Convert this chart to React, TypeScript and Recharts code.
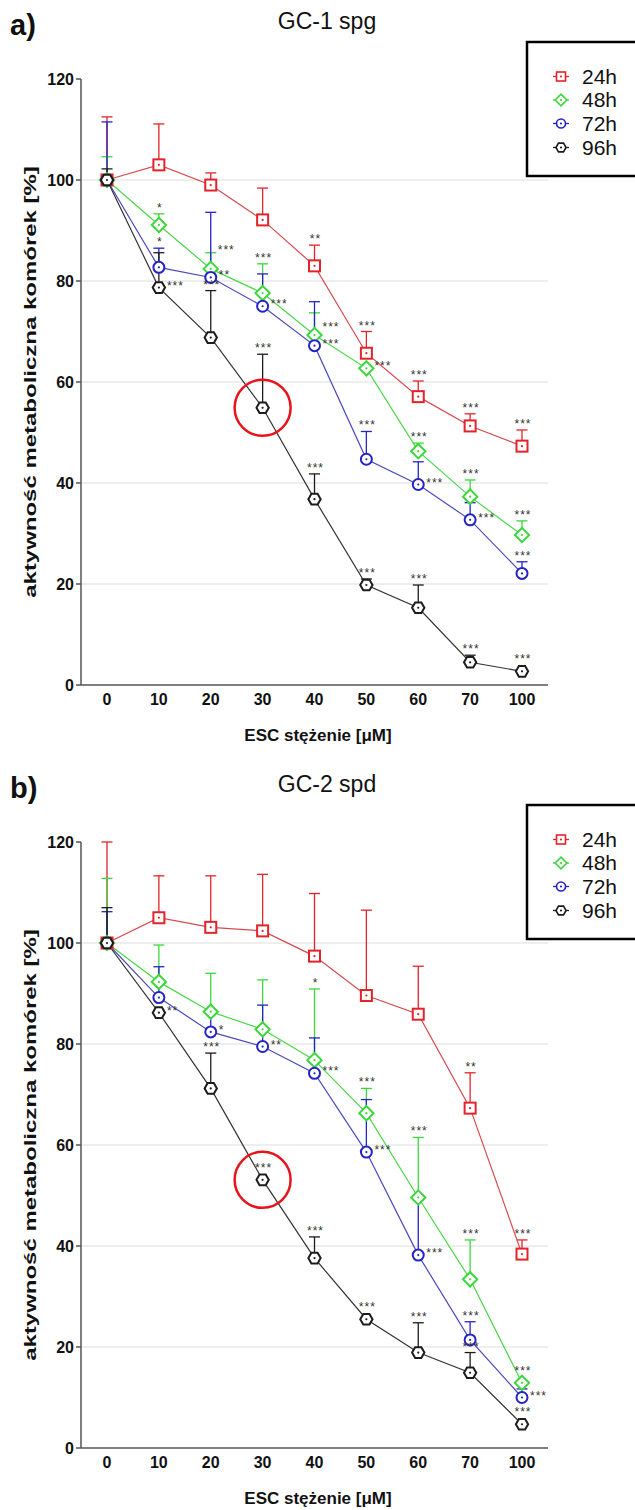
import React from "react";
import {
  CartesianGrid,
  ErrorBar,
  Line,
  LineChart,
  ReferenceDot,
  XAxis,
  YAxis,
} from "recharts";

const FONT = "'Liberation Sans', Arial, Helvetica, sans-serif";

const concentrations = ["0", "10", "20", "30", "40", "50", "60", "70", "100"];
const yTicks = [0, 20, 40, 60, 80, 100, 120];
const gridValues = [20, 40, 60, 80, 100];

const seriesKeys = ["h24", "h48", "h72", "h96"];
const seriesLabels = ["24h", "48h", "72h", "96h"];
const seriesColors = ["#e3232a", "#3ad83a", "#2323c6", "#1c1c1c"];
const lineColors = ["#d94a4f", "#4bd64b", "#4a4ac0", "#333333"];
const seriesShapes = ["square", "diamond", "circle", "hexagon"];

// GC-1 spg (panel a)
const gc1_24h = [100, 103, 99, 92.1, 83, 65.7, 57.1, 51.3, 47.3];
const gc1_48h = [100, 91.1, 82.4, 77.6, 69.3, 62.7, 46.3, 37.3, 29.7];
const gc1_72h = [100, 82.7, 80.7, 75, 67.2, 44.7, 39.7, 32.7, 22.1];
const gc1_96h = [100, 78.7, 68.8, 54.9, 36.8, 19.8, 15.3, 4.5, 2.7];

const gc1_24h_sd = [12.5, 8.1, 2.4, 6.3, 4.1, 4.3, 3.1, 2.4, 3.2];
const gc1_48h_sd = [4.6, 2.2, 3.2, 5.8, 4.4, 0, 1.6, 3.3, 2.8];
const gc1_72h_sd = [11.5, 3.8, 12.9, 6.4, 8.7, 5.5, 4.5, 3.4, 2.3];
const gc1_96h_sd = [2.2, 6.9, 9.3, 10.6, 5.0, 1.2, 4.5, 1.4, 0];

const gc1_24h_sig = ["", "", "", "", "**", "***", "***", "***", "***"];
const gc1_48h_sig = ["", "*", "***", "***", "***", "***", "***", "***", "***"];
const gc1_72h_sig = ["", "*", "**", "***", "***", "***", "***", "***", "***"];
const gc1_96h_sig = ["", "***", "***", "***", "***", "***", "***", "***", "***"];

// where the stars go: t = above the error bar, r = right of the marker,
// u = right of the marker but a bit higher, c = right of the cap
const gc1_24h_pos = ["t", "t", "t", "t", "t", "t", "t", "t", "t"];
const gc1_48h_pos = ["t", "t", "c", "t", "u", "r", "t", "t", "t"];
const gc1_72h_pos = ["t", "t", "r", "r", "r", "t", "r", "r", "t"];
const gc1_96h_pos = ["t", "r", "t", "t", "t", "t", "t", "t", "t"];

// GC-2 spd (panel b)
const gc2_24h = [100, 105, 103.1, 102.4, 97.4, 89.6, 85.9, 67.3, 38.4];
const gc2_48h = [100, 92.3, 86.4, 82.9, 76.8, 66.3, 49.6, 33.4, 12.9];
const gc2_72h = [100, 89.2, 82.4, 79.5, 74.2, 58.6, 38.2, 21.4, 10.0];
const gc2_96h = [100, 86.2, 71.2, 53.1, 37.6, 25.5, 18.9, 14.9, 4.7];

const gc2_24h_sd = [20, 8.3, 10.2, 11.2, 12.4, 16.9, 9.5, 7, 2.8];
const gc2_48h_sd = [12.8, 7.3, 7.6, 9.8, 14.1, 4.9, 11.9, 7.8, 0];
const gc2_72h_sd = [6.2, 6.1, 3.7, 8.2, 7.0, 10.4, 10.9, 3.6, 1.7];
const gc2_96h_sd = [7, 0, 7, 0, 4.2, 0, 5.9, 4, 0];

const gc2_24h_sig = ["", "", "", "", "", "", "", "**", "***"];
const gc2_48h_sig = ["", "", "", "", "*", "***", "***", "***", "***"];
const gc2_72h_sig = ["", "", "*", "**", "***", "***", "***", "***", "***"];
const gc2_96h_sig = ["", "**", "***", "***", "***", "***", "***", "***", "***"];

const gc2_24h_pos = ["t", "t", "t", "t", "t", "t", "t", "t", "t"];
const gc2_48h_pos = ["t", "t", "t", "t", "t", "t", "t", "t", "t"];
const gc2_72h_pos = ["t", "t", "r", "r", "r", "r", "r", "t", "r"];
const gc2_96h_pos = ["t", "r", "t", "t", "t", "t", "t", "t", "t"];

function Marker({ cx, cy, shape, color, s = 5.5, sw = 2 }: any) {
  let el;
  if (shape === "square") {
    el = <rect x={cx - s} y={cy - s} width={2 * s} height={2 * s} />;
  } else if (shape === "diamond") {
    const d = s * 1.3;
    el = <polygon points={`${cx},${cy - d} ${cx + d},${cy} ${cx},${cy + d} ${cx - d},${cy}`} />;
  } else if (shape === "circle") {
    el = <circle cx={cx} cy={cy} r={s} />;
  } else {
    const r = s * 1.12;
    const pts = [0, 60, 120, 180, 240, 300]
      .map((a) => {
        const t = (a * Math.PI) / 180;
        return `${cx + r * Math.cos(t)},${cy + r * Math.sin(t)}`;
      })
      .join(" ");
    el = <polygon points={pts} />;
  }
  return (
    <g fill="#fff" stroke={color} strokeWidth={sw}>
      {el}
      <circle cx={cx} cy={cy} r={1.1} fill={color} stroke="none" />
    </g>
  );
}

function Stars({ x, y, text, anchor }: any) {
  return (
    <text
      x={x}
      y={y}
      textAnchor={anchor}
      fontSize={12}
      letterSpacing={1}
      fill="#333"
      fontFamily={FONT}
    >
      {text}
    </text>
  );
}

function Panel({ values, sd, sig, pos }: any) {
  const rows = concentrations.map((c, i) => {
    const row: Record<string, any> = { conc: c };
    seriesKeys.forEach((k, s) => {
      row[k] = values[s][i];
      row[k + "Err"] = [0, sd[s][i]];
      row[k + "Top"] = values[s][i] + sd[s][i];
    });
    return row;
  });

  return (
    <LineChart
      width={635}
      height={755}
      data={rows}
      margin={{ top: 79, right: 87, bottom: 40, left: 0 }}
    >
      <CartesianGrid vertical={false} horizontalValues={gridValues} stroke="#dddddd" />
      <XAxis
        dataKey="conc"
        type="category"
        padding={{ left: 26, right: 26 }}
        axisLine={{ stroke: "#555", strokeWidth: 1.5 }}
        tickLine={false}
        tickSize={6}
        tickMargin={3}
        tick={{ fill: "#111", fontSize: 16, fontWeight: "bold", fontFamily: FONT }}
        height={30}
      />
      <YAxis
        type="number"
        width={81}
        domain={[0, 120]}
        allowDataOverflow
        ticks={yTicks}
        axisLine={{ stroke: "#555", strokeWidth: 1.5 }}
        tickLine={{ stroke: "#555", strokeWidth: 1.5 }}
        tickSize={5}
        tickMargin={2}
        tick={{ fill: "#111", fontSize: 16, fontWeight: "bold", fontFamily: FONT }}
      />
      {seriesKeys.map((k, s) => (
        <Line
          key={k}
          dataKey={k}
          stroke={lineColors[s]}
          strokeWidth={1.2}
          isAnimationActive={false}
          activeDot={false}
          dot={(p: any) => {
            const where = pos[s][p.index];
            const text = sig[s][p.index];
            return (
              <g key={`${k}-dot-${p.index}`}>
                <Marker cx={p.cx} cy={p.cy} shape={seriesShapes[s]} color={seriesColors[s]} />
                {(where === "r" || where === "u") && text ? (
                  <Stars
                    x={p.cx + 8}
                    y={p.cy + (where === "u" ? -4 : 2)}
                    text={text}
                    anchor="start"
                  />
                ) : null}
              </g>
            );
          }}
        >
          <ErrorBar
            dataKey={k + "Err"}
            direction="y"
            width={5.5}
            stroke={seriesColors[s]}
            strokeWidth={1.3}
            isAnimationActive={false}
          />
        </Line>
      ))}
      {seriesKeys.map((k, s) => (
        <Line
          key={k + "Top"}
          dataKey={k + "Top"}
          stroke="none"
          isAnimationActive={false}
          activeDot={false}
          legendType="none"
          dot={(p: any) => {
            const i = p.index;
            const text = sig[s][i];
            const where = pos[s][i];
            if (!text || where === "r" || where === "u") return <g key={`${k}-sig-${i}`} />;
            if (where === "c")
              return (
                <g key={`${k}-sig-${i}`}>
                  <Stars x={p.cx + 7} y={p.cy + 1} text={text} anchor="start" />
                </g>
              );
            return (
              <g key={`${k}-sig-${i}`}>
                <Stars x={p.cx + 1} y={p.cy - 2 - (sd[s][i] === 0 ? 6 : 0)} text={text} anchor="middle" />
              </g>
            );
          }}
        />
      ))}
      <ReferenceDot
        x="30"
        y={values[3][3]}
        r={28}
        fill="none"
        stroke="#e8141c"
        strokeWidth={2.5}
      />
    </LineChart>
  );
}

function Overlay({ dy, letter, title }: any) {
  const legendY = [83.5, 107, 130.5, 154.5];
  return (
    <g transform={`translate(0, ${dy})`} fontFamily={FONT}>
      <text x={10} y={35} fontSize={29} fontWeight="bold" fill="#111">
        {letter}
      </text>
      <text x={327} y={29} fontSize={23} textAnchor="middle" fill="#111">
        {title}
      </text>
      <text x={318} y={741} fontSize={17} fontWeight="bold" textAnchor="middle" fill="#111">
        ESC stężenie [μM]
      </text>
      <text
        transform="translate(36, 382) rotate(-90) scale(1.5, 1)"
        fontSize={16}
        fontWeight="bold"
        textAnchor="middle"
        fill="#111"
      >
        aktywność metaboliczna komórek [%]
      </text>
      <rect x={527} y={42} width={140} height={134} fill="#fff" stroke="#000" strokeWidth={2.5} />
      {seriesLabels.map((lab, s) => (
        <g key={lab}>
          <line
            x1={553}
            x2={569}
            y1={legendY[s] - 7}
            y2={legendY[s] - 7}
            stroke={seriesColors[s]}
            strokeWidth={1.3}
          />
          <Marker
            cx={561}
            cy={legendY[s] - 7}
            shape={seriesShapes[s]}
            color={seriesColors[s]}
            s={4.5}
            sw={1.6}
          />
          <text x={582} y={legendY[s]} fontSize={21} fill="#111">
            {lab}
          </text>
        </g>
      ))}
    </g>
  );
}

export default function App() {
  return (
    <div
      style={{
        position: "relative",
        width: 635,
        height: 1510,
        overflow: "hidden",
        background: "#fff",
      }}
    >
      <style>{"body{margin:0}"}</style>
      <div style={{ position: "absolute", left: 0, top: 0 }}>
        <Panel
          values={[gc1_24h, gc1_48h, gc1_72h, gc1_96h]}
          sd={[gc1_24h_sd, gc1_48h_sd, gc1_72h_sd, gc1_96h_sd]}
          sig={[gc1_24h_sig, gc1_48h_sig, gc1_72h_sig, gc1_96h_sig]}
          pos={[gc1_24h_pos, gc1_48h_pos, gc1_72h_pos, gc1_96h_pos]}
        />
      </div>
      <div style={{ position: "absolute", left: 0, top: 763 }}>
        <Panel
          values={[gc2_24h, gc2_48h, gc2_72h, gc2_96h]}
          sd={[gc2_24h_sd, gc2_48h_sd, gc2_72h_sd, gc2_96h_sd]}
          sig={[gc2_24h_sig, gc2_48h_sig, gc2_72h_sig, gc2_96h_sig]}
          pos={[gc2_24h_pos, gc2_48h_pos, gc2_72h_pos, gc2_96h_pos]}
        />
      </div>
      <svg
        width={635}
        height={1510}
        style={{ position: "absolute", left: 0, top: 0, pointerEvents: "none" }}
      >
        <Overlay dy={0} letter="a)" title="GC-1 spg" />
        <Overlay dy={763} letter="b)" title="GC-2 spd" />
      </svg>
    </div>
  );
}
